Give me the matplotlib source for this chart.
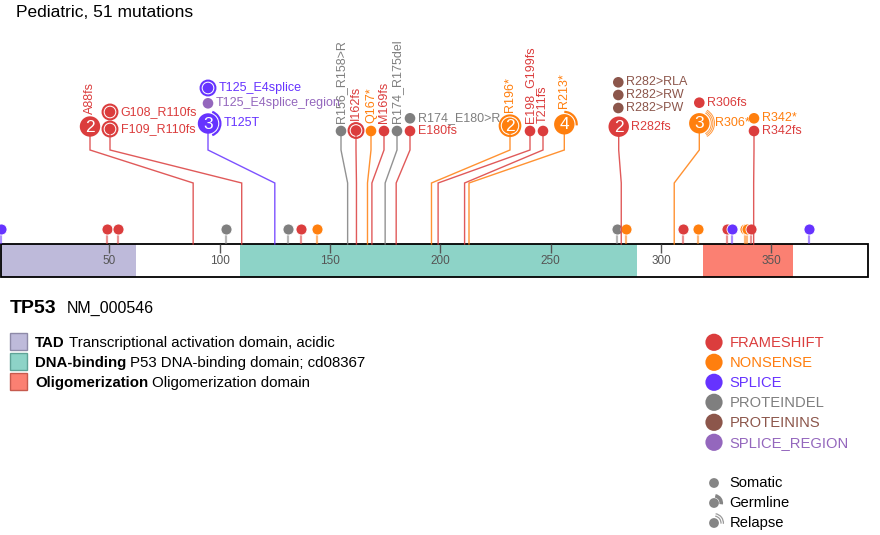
import matplotlib
matplotlib.use('Agg')
import matplotlib.pyplot as plt
from matplotlib.patches import Circle, Arc, Rectangle

plt.rcParams['font.family'] = ['Liberation Sans', 'DejaVu Sans']

# ------------------------------------------------------------
# data
# ------------------------------------------------------------
title = 'Pediatric, 51 mutations'
gene = 'TP53'
isoform = 'NM_000546'
protein_start = 1
protein_end = 394

domain_names = ['TAD', 'DNA-binding', 'Oligomerization']
domain_desc = ['Transcriptional activation domain, acidic',
               'P53 DNA-binding domain; cd08367',
               'Oligomerization domain']
domain_start = [1, 109, 319]
domain_end = [62, 289, 360]

tick_values = [50, 100, 150, 200, 250, 300, 350]

class_names = ['FRAMESHIFT', 'NONSENSE', 'SPLICE', 'PROTEINDEL', 'PROTEININS', 'SPLICE_REGION']
origin_names = ['Somatic', 'Germline', 'Relapse']

# single mutations drawn in the low row (no label)
low_pos = [1, 49, 54, 103, 131, 137, 144, 280, 284, 310, 317, 330, 332, 338, 339, 341, 367]
low_class = ['SPLICE', 'FRAMESHIFT', 'FRAMESHIFT', 'PROTEINDEL', 'PROTEINDEL', 'FRAMESHIFT',
             'NONSENSE', 'PROTEINDEL', 'NONSENSE', 'FRAMESHIFT', 'NONSENSE', 'FRAMESHIFT',
             'SPLICE', 'NONSENSE', 'NONSENSE', 'FRAMESHIFT', 'SPLICE']

# labelled mutations
lab_names = ['A88fs', 'F109_R110fs', 'G108_R110fs', 'T125T', 'T125_E4splice_region', 'T125_E4splice',
             'R156_R158>R', 'I162fs', 'Q167*', 'M169fs', 'R174_R175del', 'E180fs', 'R174_E180>R',
             'R196*', 'E198_G199fs', 'T211fs', 'R213*', 'R282fs', 'R282>PW', 'R282>RW', 'R282>RLA',
             'R306*', 'R306fs', 'R342fs', 'R342*']
lab_class = ['FRAMESHIFT', 'FRAMESHIFT', 'FRAMESHIFT', 'SPLICE', 'SPLICE_REGION', 'SPLICE',
             'PROTEINDEL', 'FRAMESHIFT', 'NONSENSE', 'FRAMESHIFT', 'PROTEINDEL', 'FRAMESHIFT', 'PROTEINDEL',
             'NONSENSE', 'FRAMESHIFT', 'FRAMESHIFT', 'NONSENSE', 'FRAMESHIFT', 'PROTEININS', 'PROTEININS',
             'PROTEININS', 'NONSENSE', 'FRAMESHIFT', 'FRAMESHIFT', 'NONSENSE']
lab_pos = [88, 110, 110, 125, 125, 125, 158, 162, 167, 169, 175, 180, 180,
           196, 199, 211, 213, 282, 282, 282, 282, 306, 306, 342, 342]
lab_count = [2, 1, 1, 3, 1, 1, 1, 1, 1, 1, 1, 1, 1, 2, 1, 1, 4, 2, 1, 1, 1, 3, 1, 1, 1]
lab_origin = ['Somatic', 'Germline', 'Germline', 'Germline', 'Somatic', 'Germline',
              'Somatic', 'Germline', 'Somatic', 'Somatic', 'Somatic', 'Somatic', 'Somatic',
              'Germline', 'Somatic', 'Somatic', 'Germline', 'Somatic', 'Somatic', 'Somatic', 'Somatic',
              'Relapse', 'Somatic', 'Somatic', 'Somatic']

# ------------------------------------------------------------
# styles / layout
# ------------------------------------------------------------
colors = {'FRAMESHIFT': '#db3d3d', 'NONSENSE': '#ff7f0e', 'SPLICE': '#6633ff',
          'PROTEINDEL': '#7f7f7f', 'PROTEININS': '#8c564b', 'SPLICE_REGION': '#9467bd'}
domain_colors = ['#bebada', '#8dd3c7', '#fb8072']
domain_edges = ['#8e8aa8', '#5fa397', '#c65a4e']

# disc centre (pixels) and label direction for each labelled mutation
lay_x = [90, 110, 110, 208, 208, 208, 341, 356, 371, 384, 397, 410, 410,
         510, 530, 543, 564.3, 618.7, 618.3, 618.3, 618.3, 699.3, 699.3, 754, 754]
lay_y = [126.5, 129, 112, 123.5, 103.3, 88, 131, 130.5, 131, 131, 131, 131, 118.3,
         125.7, 131, 131, 124.3, 126.7, 108, 95, 82.3, 123.3, 102.7, 131, 118.3]
lay_side = ['up', 'right', 'right', 'right', 'right', 'right', 'up', 'up', 'up', 'up', 'up', 'right', 'right',
            'up', 'up', 'up', 'up', 'right', 'right', 'right', 'right', 'right', 'right', 'right', 'right']
# first disc of each stack carries the stem
stem_idx = [0, 1, 3, 6, 7, 8, 9, 10, 11, 13, 14, 15, 16, 17, 21, 23]
# arc span (screen degrees, clockwise from 12 o'clock) for germline / relapse
arc_span = {3: (20, 160), 16: (0, 95), 21: (30, 150)}

BAR_TOP, BAR_BOT = 244, 277
LOW_Y = 229
KINK1, KINK2 = 150, 183

fig = plt.figure(figsize=(8.8, 5.35), dpi=100)
ax_p = fig.add_axes([0, 0, 1, 1])
ax_p.set_xlim(0.4668, 399.25)
ax_p.set_ylim(535, 0)
ax_p.axis('off')
ax_t = fig.add_axes([0, 0, 1, 1])
ax_t.set_xlim(0, 880)
ax_t.set_ylim(535, 0)
ax_t.axis('off')


def px_of(aa):
    d = ax_p.transData.transform((aa, 0))
    return ax_t.transData.inverted().transform(d)[0]


# protein bar and domains
for s, e, c in zip(domain_start, domain_end, domain_colors):
    ax_p.add_patch(Rectangle((s, BAR_TOP), e - s, BAR_BOT - BAR_TOP, fc=c, ec='none', zorder=1))
ax_p.add_patch(Rectangle((protein_start, BAR_TOP), protein_end - protein_start, BAR_BOT - BAR_TOP,
                         fc='none', ec='black', lw=1.3, zorder=2))
ax_p.vlines(tick_values, BAR_TOP, BAR_TOP + 8.5, color='#555555', lw=1, zorder=2)
for t in tick_values:
    ax_p.text(t, 260.5, str(t), ha='center', va='center', fontsize=8.5, color='#555555', zorder=3)

# low row
for p, c in zip(low_pos, low_class):
    ax_p.vlines(p, LOW_Y, BAR_TOP, color=colors[c], alpha=0.55, lw=1.6, zorder=2)
for p, c in zip(low_pos, low_class):
    ax_p.scatter([p], [LOW_Y], s=(2 * 5.5 * 0.72) ** 2, color=colors[c], linewidths=0.6,
                 edgecolors='white', zorder=4)

# stems with kinks
for i in stem_idx:
    c = colors[lab_class[i]]
    xe = px_of(lab_pos[i])
    xs = lay_x[i]
    ax_t.plot([xs, xs, xe, xe], [lay_y[i], KINK1, KINK2, BAR_TOP], color=c, lw=1, alpha=0.85,
              zorder=1, solid_joinstyle='miter')

# discs
for i in range(len(lab_names)):
    c = colors[lab_class[i]]
    x, y = lay_x[i], lay_y[i]
    cnt = lab_count[i]
    org = lab_origin[i]
    r = 10.2 if cnt > 1 else 5.3
    outer = r
    if org == 'Germline' and i not in arc_span:
        r = r - 2.0 if cnt > 1 else r
        ax_t.add_patch(Circle((x, y), r, fc=c, ec='none', zorder=5))
        ax_t.add_patch(Circle((x, y), r + 2.1, fc='none', ec=c, lw=1.5, zorder=5))
        outer = r + 2.9
    else:
        ax_t.add_patch(Circle((x, y), r, fc=c, ec='none', zorder=5))
        if i in arc_span:
            a0, a1 = arc_span[i]
            # data y is inverted, so screen clockwise-from-top maps to data angle (a - 90)
            if org == 'Germline':
                ax_t.add_patch(Arc((x, y), 2 * (r + 2.2), 2 * (r + 2.2), theta1=a0 - 90, theta2=a1 - 90,
                                   color=c, lw=1.6, zorder=5))
                outer = r + 3.5
            else:
                for k in (1.8, 3.4, 5.0):
                    ax_t.add_patch(Arc((x, y), 2 * (r + k), 2 * (r + k), theta1=a0 - 90, theta2=a1 - 90,
                                       color=c, lw=0.7, alpha=0.8, zorder=5))
                outer = r + 3.0
    if cnt > 1:
        ax_t.text(x, y + 0.6, str(cnt), ha='center', va='center', color='white', fontsize=12.5, zorder=6)
    if lay_side[i] == 'up':
        ax_t.text(x, y - outer - 2.5, lab_names[i], rotation=90, ha='center', va='bottom',
                  color=c, fontsize=9, zorder=6)
    else:
        ax_t.text(x + outer + 2.5, y, lab_names[i], ha='left', va='center', color=c, fontsize=9, zorder=6)

# title and gene
ax_t.text(16, 16.7, title, fontsize=12.5, va='baseline', color='black')
renderer = fig.canvas.get_renderer()
g = ax_t.text(10, 312.7, gene, fontsize=14, fontweight='bold', va='baseline')
gx = g.get_window_extent(renderer).x1
ax_t.text(gx + 10, 312.7, isoform, fontsize=11.5, va='baseline')

# domain legend
for k, (nm, ds) in enumerate(zip(domain_names, domain_desc)):
    y0 = 333 + 20 * k
    ax_t.add_patch(Rectangle((10, y0), 17, 17, fc=domain_colors[k], ec=domain_edges[k], lw=1, zorder=3))
    t = ax_t.text(35, y0 + 13.7, nm, fontsize=10.8, fontweight='bold', va='baseline')
    tx = t.get_window_extent(renderer).x1
    ax_t.text(tx + 4, y0 + 13.7, ds, fontsize=10.8, va='baseline')

# class legend
for k, cl in enumerate(class_names):
    y0 = 342.3 + 20 * k
    ax_t.add_patch(Circle((714, y0), 8.6, fc=colors[cl], ec='none', zorder=3))
    ax_t.text(729.3, y0 + 5, cl, fontsize=10.6, color=colors[cl], va='baseline')

# origin legend
for k, og in enumerate(origin_names):
    y0 = 483 + 20 * k
    ax_t.add_patch(Circle((714, y0), 4.9, fc='#858585', ec='none', zorder=3))
    if og == 'Germline':
        ax_t.add_patch(Arc((714, y0), 14.5, 14.5, theta1=-80, theta2=10, color='#858585', lw=2.6, zorder=3))
    elif og == 'Relapse':
        for rr in (7.0, 9.4):
            ax_t.add_patch(Arc((714, y0), 2 * rr, 2 * rr, theta1=-80, theta2=5, color='#9a9a9a',
                               lw=0.9, zorder=3))
    ax_t.text(729.3, y0 + 3.7, og, fontsize=10.6, color='black', va='baseline')

fig.savefig('out.png', dpi=100)
